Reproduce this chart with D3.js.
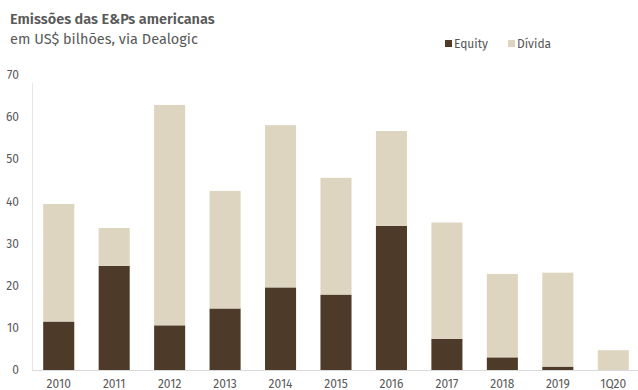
<!DOCTYPE html>
<html><head><meta charset="utf-8">
<script src="https://cdn.jsdelivr.net/npm/d3@7"></script>
<style>body{margin:0;background:#fff;}svg{display:block;font-family:"Fira Sans","Open Sans","Noto Sans",sans-serif;}</style>
</head><body>
<svg id="c" width="638" height="390"></svg>
<script>
const categories = ["2010","2011","2012","2013","2014","2015","2016","2017","2018","2019","1Q20"];
const equity = [11.5,24.7,10.6,14.6,19.6,17.9,34.2,7.4,3.0,0.8,0];
const divida = [27.9,9.0,52.3,27.9,38.5,27.7,22.5,27.6,19.8,22.3,4.7];
const yTicks = [0,10,20,30,40,50,60,70];
const seriesNames = ["Equity","Dívida"];
const colors = ["#4e3a28","#ded5c0"];

const svg = d3.select("#c");
const x = d3.scaleBand().domain(categories).range([31,641]).paddingInner(0.44).paddingOuter(0.22);
const y = d3.scaleLinear().domain([0,70]).range([370,75]);

const rows = categories.map((c,i)=>({cat:c, Equity:equity[i], "Dívida":divida[i]}));
const stacked = d3.stack().keys(seriesNames)(rows);

svg.append("line").attr("x1",32.5).attr("x2",32.5).attr("y1",y(70)+8).attr("y2",y(0)).attr("stroke","#e6e6e6").attr("stroke-width",1);

svg.selectAll("g.s").data(stacked).join("g").attr("class","s")
  .attr("fill",(d,i)=>colors[i])
  .selectAll("rect").data(d=>d).join("rect")
  .attr("x",d=>x(d.data.cat)).attr("width",x.bandwidth())
  .attr("y",d=>y(d[1])).attr("height",d=>Math.max(0,y(d[0])-y(d[1])));

svg.append("line").attr("x1",32).attr("x2",638).attr("y1",370.5).attr("y2",370.5).attr("stroke","#d9d9d9").attr("stroke-width",1);

svg.selectAll("text.yt").data(yTicks).join("text").attr("class","yt")
  .attr("x",19).attr("y",d=>y(d)).attr("dy","0.35em").attr("text-anchor","end")
  .attr("font-size",12).attr("fill","#595959").text(d=>d);

svg.selectAll("text.xt").data(categories).join("text").attr("class","xt")
  .attr("x",d=>x(d)+x.bandwidth()/2).attr("y",388).attr("text-anchor","middle")
  .attr("font-size",12).attr("fill","#595959").text(d=>d);

svg.append("text").attr("x",10).attr("y",24).attr("font-size",14.5).attr("font-weight",600).attr("fill","#595959").text("Emissões das E&Ps americanas");
svg.append("text").attr("x",10).attr("y",44).attr("font-size",14.5).attr("fill","#595959").text("em US$ bilhões, via Dealogic");

const legX = [445,508];
seriesNames.forEach((n,i)=>{
  svg.append("rect").attr("x",legX[i]).attr("y",40).attr("width",7).attr("height",7).attr("fill",colors[i]);
  svg.append("text").attr("x",legX[i]+9).attr("y",48).attr("font-size",12).attr("fill","#555").text(n);
});
</script>
</body></html>
